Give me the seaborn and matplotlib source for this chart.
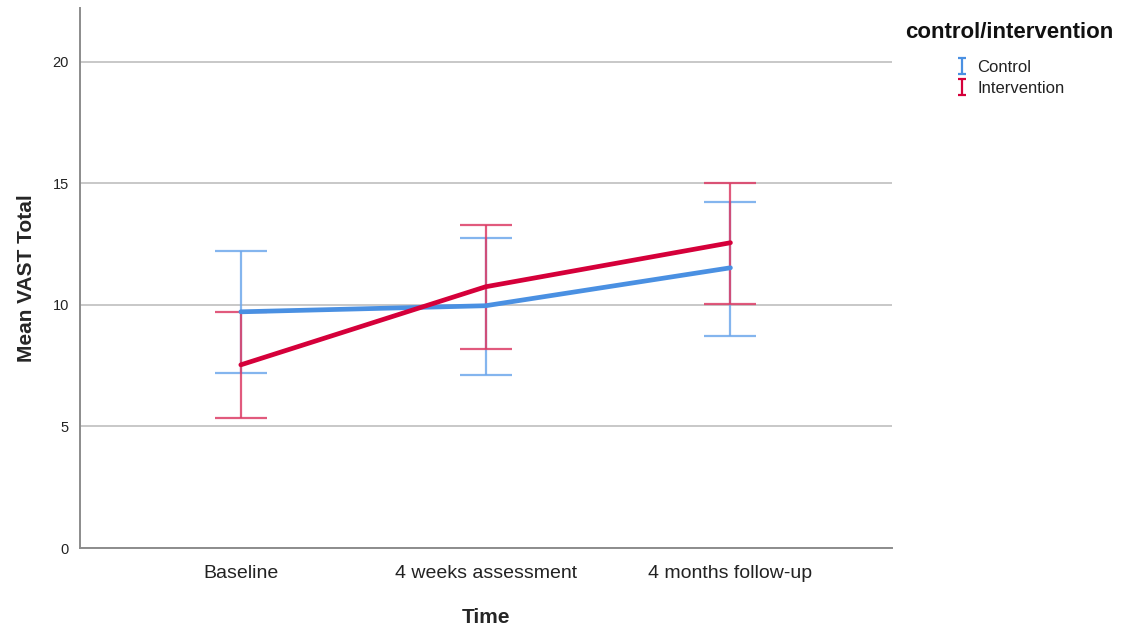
import numpy as np
import pandas as pd
import matplotlib
matplotlib.use("Agg")
import matplotlib.pyplot as plt
from matplotlib.lines import Line2D
from matplotlib.path import Path
import seaborn as sns

# ---- data ----
time_labels = ["Baseline", "4 weeks assessment", "4 months follow-up"]
groups = ["Control", "Intervention"]
control_mean = [9.71, 9.96, 11.52]
control_lower = [7.20, 7.12, 8.72]
control_upper = [12.22, 12.76, 14.24]
intervention_mean = [7.53, 10.74, 12.55]
intervention_lower = [5.35, 8.19, 10.04]
intervention_upper = [9.71, 13.29, 15.02]

line_colors = {"Control": "#4A90E2", "Intervention": "#D5003A"}
err_colors = {"Control": "#6FA8EC", "Intervention": "#DC3D66"}

df = pd.DataFrame({
    "pos": list(range(len(time_labels))) * 2,
    "Time": time_labels * 2,
    "group": ["Control"] * 3 + ["Intervention"] * 3,
    "mean": control_mean + intervention_mean,
    "lower": control_lower + intervention_lower,
    "upper": control_upper + intervention_upper,
})

sns.set_theme(style="white")
plt.rcParams["font.family"] = ["Liberation Sans", "DejaVu Sans"]

fig = plt.figure(figsize=(11.24, 6.35), dpi=100)
ax = fig.add_axes([80 / 1124, 87 / 635, (892 - 80) / 1124, (548 - 8) / 635])

# error bars
for g in groups:
    sub = df[df["group"] == g]
    ax.errorbar(sub["pos"], sub["mean"],
                yerr=[sub["mean"] - sub["lower"], sub["upper"] - sub["mean"]],
                fmt="none", ecolor=err_colors[g], elinewidth=1.6,
                capsize=19, capthick=1.6, alpha=0.85, zorder=3)

sns.lineplot(data=df, x="pos", y="mean", hue="group", palette=line_colors,
             linewidth=3.4, legend=False, ax=ax, zorder=4, estimator=None)

ax.set_xlim(-0.657, 2.66)
ax.set_ylim(0, 22.2)
ax.set_xticks(range(len(time_labels)))
ax.set_xticklabels(time_labels, fontsize=14, color="#222222")
ax.set_yticks([0, 5, 10, 15, 20])
ax.set_yticklabels(["0", "5", "10", "15", "20"], fontsize=10.5, color="#222222")
ax.tick_params(axis="both", length=0)
ax.tick_params(axis="x", pad=12)
ax.tick_params(axis="y", pad=8)

ax.yaxis.grid(True, color="#C8C8C8", linewidth=1.4)
ax.xaxis.grid(False)
ax.set_axisbelow(True)
for s in ["top", "right"]:
    ax.spines[s].set_visible(False)
for s in ["left", "bottom"]:
    ax.spines[s].set_color("#8C8C8C")
    ax.spines[s].set_linewidth(1.4)

ax.set_xlabel("Time", fontsize=15, fontweight="bold", labelpad=19)
ax.set_ylabel("Mean VAST Total", fontsize=15, fontweight="bold", labelpad=12)

# legend title
fig.text(905 / 1124, 1 - 32 / 635, "control/intervention", fontsize=16,
         fontweight="bold", ha="left", va="center", color="#111111")

# legend with I-shaped markers
ibeam = Path([(-0.5, 1), (0.5, 1), (0, 1), (0, -1), (-0.5, -1), (0.5, -1)],
             [Path.MOVETO, Path.LINETO, Path.MOVETO, Path.LINETO, Path.MOVETO, Path.LINETO])
handles = [Line2D([], [], linestyle="none", marker=ibeam, markersize=11,
                  markeredgewidth=1.6, markeredgecolor=line_colors[g],
                  markerfacecolor="none", label=g) for g in groups]
leg = fig.legend(handles=handles,
                 loc="upper left", bbox_to_anchor=(942 / 1124, 1 - 48 / 635),
                 frameon=False, fontsize=12,
                 handlelength=1.0, handletextpad=0.4, labelspacing=0.35,
                 borderpad=0.2)
for t in leg.get_texts():
    t.set_color("#222222")

fig.savefig("out.png", dpi=100)
